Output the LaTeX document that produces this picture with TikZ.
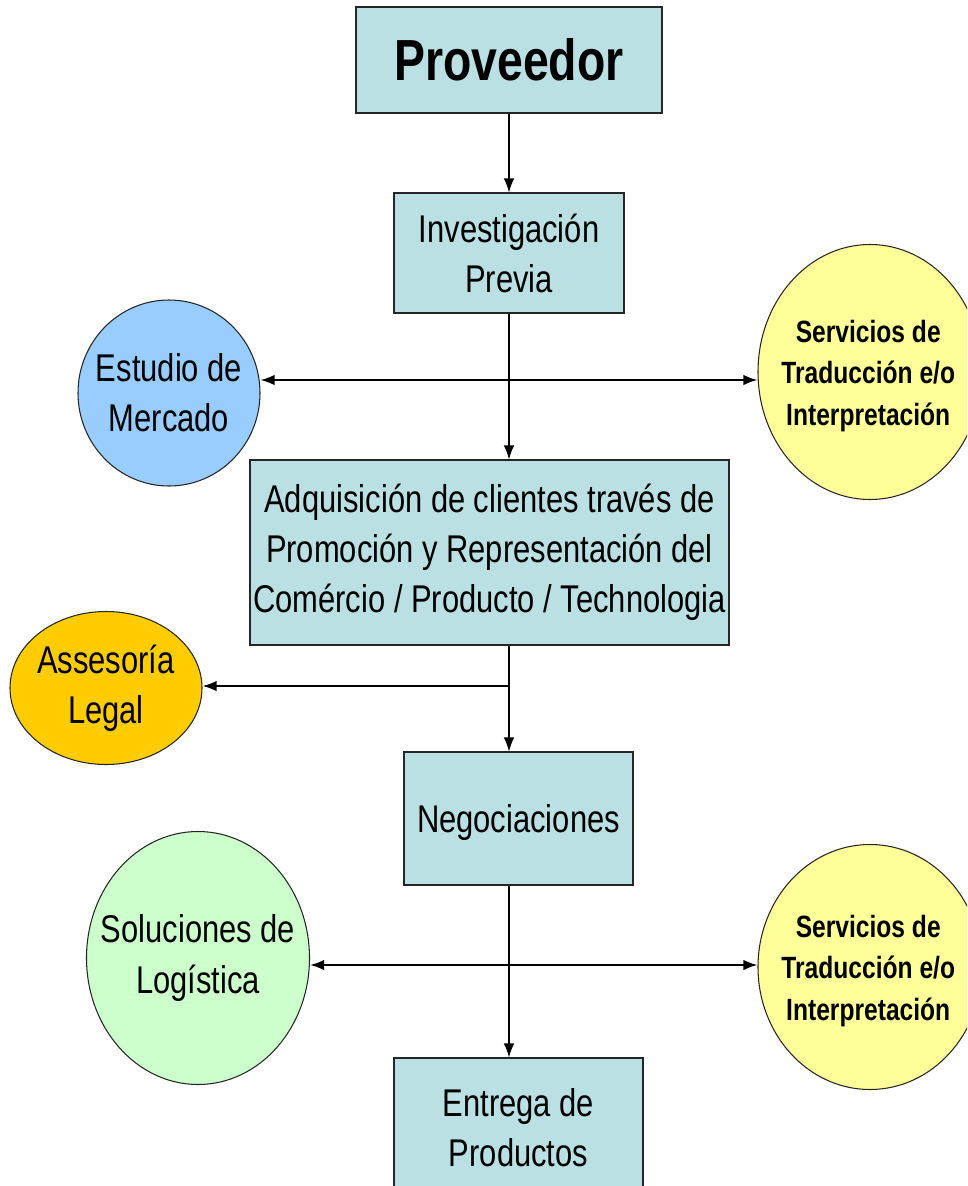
\documentclass[tikz,border=0pt]{standalone}
\usepackage{fontspec}
\setmainfont{Liberation Sans}[FakeStretch=0.8]
\usepackage{tikz}
\usetikzlibrary{arrows.meta,shapes,calc}

\definecolor{boxfill}{HTML}{BBE0E3}
\definecolor{bluefill}{HTML}{99CCFF}
\definecolor{yellowfill}{HTML}{FFFF99}
\definecolor{orangefill}{HTML}{FFCC00}
\definecolor{greenfill}{HTML}{CCFFCC}
\newcommand{\px}{0.02cm}

\begin{document}
\begin{tikzpicture}[x=0.02cm,y=-0.02cm,
	font=\fontsize{22}{28.5}\selectfont,
	box/.style={draw=black!85,fill=boxfill,line width=0.6pt,align=center,inner sep=0pt},
	oval/.style={ellipse,draw=black!85,line width=0.6pt,inner sep=0pt},
	boldtext/.style={align=center,yshift=-2.2pt,font=\bfseries\fontsize{17.5}{23.6}\selectfont},
	plaintext/.style={align=center},
	arr/.style={-{Latex[length=8pt,width=6pt]},line width=0.7pt},
	harr/.style={{Latex[length=8pt,width=6pt]}-{Latex[length=8pt,width=6pt]},line width=1.1pt}]
		\useasboundingbox (0,0) rectangle (967,1186);
		\fill[white] (0,0) rectangle (967,1186);
		\clip (0,0) rectangle (967,1186);
		% main column
		\node[box,minimum width=306*\px,minimum height=106*\px,font=\bfseries\fontsize{33}{36}\selectfont] (prov) at (509,60) {Proveedor};
		\node[box,minimum width=230*\px,minimum height=120*\px] (inv) at (509,253) {Investigación\\Previa};
		\node[box,minimum width=479*\px,minimum height=185*\px] (adq) at (489.5,552.5) {Adquisición de clientes través de\\Promoción y Representación del\\Comércio / Producto / Technologia};
		\node[box,minimum width=229*\px,minimum height=133*\px,text depth=0pt] (neg) at (518.5,818.5) {Negociaciones};
		\node[box,minimum width=249*\px,minimum height=140*\px] (ent) at (518.5,1128) {Entrega de\\Productos};
		% side ovals
		\node[oval,fill=bluefill,minimum width=182*\px,minimum height=186*\px,
			label={[plaintext]center:{Estudio de\\Mercado}}] (estudio) at (169,393) {};
		\node[oval,fill=yellowfill,minimum width=224*\px,minimum height=255*\px,
			label={[boldtext,xshift=-1pt]center:{Servicios de\\Traducción e/o\\Interpretación}}] (servA) at (870,372) {};
		\node[oval,fill=orangefill,minimum width=192*\px,minimum height=153*\px,
			label={[plaintext]center:{Assesoría\\Legal}}] (legal) at (106,688) {};
		\node[oval,fill=greenfill,minimum width=223*\px,minimum height=253*\px,
			label={[plaintext]center:{Soluciones de\\Logística}}] (logis) at (198,958) {};
		\node[oval,fill=yellowfill,minimum width=224*\px,minimum height=245*\px,
			label={[boldtext,xshift=-1pt]center:{Servicios de\\Traducción e/o\\Interpretación}}] (servB) at (870,967) {};
		% connectors
		\coordinate (jA) at (509,380);
		\coordinate (jB) at (509,686);
		\coordinate (jC) at (509,965);
		\draw[arr] (prov) -- (inv);
		\draw[arr] (inv.south) -- (inv.south |- adq.north);
		\draw[harr] (estudio.east |- jA) -- (servA.west |- jA);
		\draw[arr] (adq.south -| inv) -- (neg.north -| inv);
		\draw[arr,line width=1.1pt] (jB) -- (legal.east |- jB);
		\draw[arr] (neg.south -| inv) -- (ent.north -| inv);
		\draw[harr] (logis.east |- jC) -- (servB.west |- jC);
\end{tikzpicture}
\end{document}
